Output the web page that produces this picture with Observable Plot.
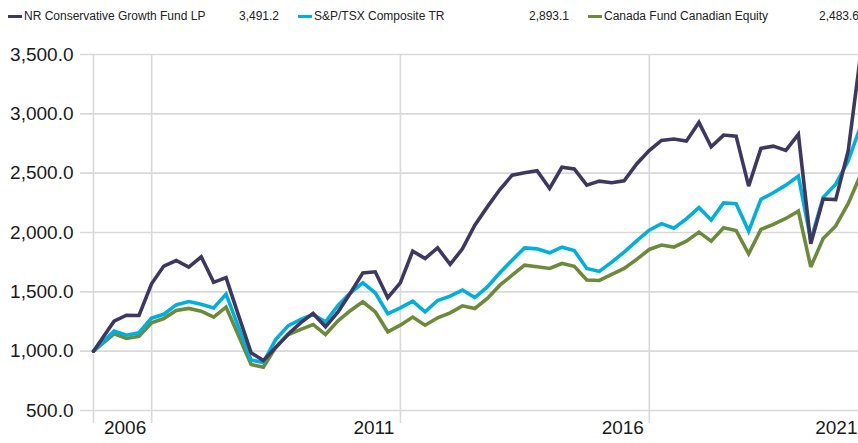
<!DOCTYPE html>
<html>
<head>
<meta charset="utf-8">
<script src="https://cdn.jsdelivr.net/npm/d3@7"></script>
<script src="https://cdn.jsdelivr.net/npm/@observablehq/plot@0.6"></script>
<style>
  html, body { margin: 0; padding: 0; background: #fff; overflow: hidden; }
  body { width: 858px; height: 443px; font-family: Arial, "Liberation Sans", sans-serif; }
  #legend { position: relative; height: 30px; width: 858px; overflow: hidden; }
  .item { position: absolute; top: 1px; height: 30px; width: 271px; display: flex; align-items: center; font-size: 12px; color: #222; white-space: nowrap; }
  .sw { width: 14px; height: 3px; margin-right: 2px; flex: none; }
  .val { margin-left: auto; }
  #chart svg { display: block; }
</style>
</head>
<body>
<div id="legend"></div>
<div id="chart"></div>
<script>
// ---- data ----
const seriesNames = ["NR Conservative Growth Fund LP", "S&P/TSX Composite TR", "Canada Fund Canadian Equity"];
const seriesColors = ["#3e3861", "#00afdb", "#6b8b3b"];
const lastValues = [3491.2, 2893.1, 2483.6];

const dates = [
  "2005-10-31",
  "2006-03-31","2006-06-30","2006-09-30","2006-12-31",
  "2007-03-31","2007-06-30","2007-09-30","2007-12-31",
  "2008-03-31","2008-06-30","2008-09-30","2008-12-31",
  "2009-03-31","2009-06-30","2009-09-30","2009-12-31",
  "2010-03-31","2010-06-30","2010-09-30","2010-12-31",
  "2011-03-31","2011-06-30","2011-09-30","2011-12-31",
  "2012-03-31","2012-06-30","2012-09-30","2012-12-31",
  "2013-03-31","2013-06-30","2013-09-30","2013-12-31",
  "2014-03-31","2014-06-30","2014-09-30","2014-12-31",
  "2015-03-31","2015-06-30","2015-09-30","2015-12-31",
  "2016-03-31","2016-06-30","2016-09-30","2016-12-31",
  "2017-03-31","2017-06-30","2017-09-30","2017-12-31",
  "2018-03-31","2018-06-30","2018-09-30","2018-12-31",
  "2019-03-31","2019-06-30","2019-09-30","2019-12-31",
  "2020-03-31","2020-06-30","2020-09-30","2020-12-31",
  "2021-03-31"
];

const nrFund = [
  1000, 1253, 1303, 1301, 1568, 1717, 1764, 1708, 1795, 1580,
  1620, 1300, 986, 921, 1030, 1145, 1240, 1318, 1205, 1330,
  1492, 1660, 1669, 1450, 1576, 1843, 1781, 1871, 1731, 1862,
  2062, 2216, 2362, 2483, 2503, 2520, 2371, 2550, 2535, 2399,
  2433, 2419, 2435, 2578, 2690, 2776, 2788, 2770, 2928, 2722,
  2821, 2812, 2391, 2709, 2728, 2692, 2827, 1905, 2282, 2277,
  2690, 3491.2
];

const tsxComposite = [
  1000, 1169, 1135, 1155, 1278, 1311, 1390, 1418, 1396, 1365,
  1480, 1200, 925, 905, 1099, 1215, 1268, 1309, 1247, 1385,
  1492, 1576, 1492, 1315, 1365, 1422, 1332, 1427, 1464, 1515,
  1452, 1542, 1660, 1767, 1870, 1862, 1829, 1876, 1848, 1697,
  1672, 1750, 1835, 1930, 2020, 2075, 2036, 2115, 2210, 2105,
  2250, 2242, 2012, 2279, 2335, 2399, 2475, 1935, 2295, 2407,
  2604, 2893.1
];

const canadaFund = [
  1000, 1146, 1107, 1126, 1239, 1275, 1343, 1360, 1337, 1287,
  1371, 1130, 888, 865, 1035, 1140, 1183, 1225, 1140, 1255,
  1343, 1416, 1332, 1163, 1219, 1287, 1219, 1281, 1323, 1382,
  1360, 1444, 1556, 1640, 1725, 1711, 1697, 1739, 1715, 1600,
  1596, 1647, 1697, 1773, 1857, 1894, 1877, 1927, 2003, 1927,
  2040, 2017, 1820, 2026, 2068, 2118, 2180, 1710, 1950, 2055,
  2245, 2483.6
];

const yTicks = [500, 1000, 1500, 2000, 2500, 3000, 3500];
const xGridDates = ["2005-10-31", "2007-01-01", "2012-01-01", "2017-01-01"];
const xTickYears = [2006, 2011, 2016, 2021];

// ---- legend ----
const fmt = d3.format(",.1f");
const legend = document.getElementById("legend");
seriesNames.forEach((name, i) => {
  const it = document.createElement("div");
  it.className = "item";
  it.style.left = (8 + i * 290) + "px";
  it.innerHTML = `<span class="sw" style="background:${seriesColors[i]}"></span><span>${name.replace(/&/g, "&amp;")}</span><span class="val">${fmt(lastValues[i])}</span>`;
  legend.appendChild(it);
});

// ---- table ----
const parse = d3.utcParse("%Y-%m-%d");
const allSeries = [nrFund, tsxComposite, canadaFund];
const rows = [];
// draw order: green, cyan, purple on top
[2, 1, 0].forEach(si => {
  dates.forEach((d, j) => rows.push({date: parse(d), value: allSeries[si][j], series: seriesNames[si]}));
});

const x0 = parse(dates[0]);
const x1 = parse(dates[dates.length - 1]);
const labelRows = xTickYears.map((y) => {
  const mid = new Date(Date.UTC(y, 5, 20));
  const last = mid > x1;
  return {date: last ? x1 : mid, text: String(y), anchor: last ? "end" : "middle"};
});

const chart = Plot.plot({
  width: 858,
  height: 413,
  marginLeft: 80,
  marginRight: 0,
  marginTop: 24,
  marginBottom: 33,
  style: {fontFamily: 'Arial, "Liberation Sans", sans-serif', overflow: "hidden", background: "#fff"},
  x: {type: "utc", domain: [x0, x1], range: [93, 860], axis: null},
  y: {domain: [500, 3500], axis: null},
  color: {domain: seriesNames, range: seriesColors},
  marks: [
    Plot.gridY(yTicks, {stroke: "#d9d9d9", strokeOpacity: 1, strokeWidth: 1.6}),
    Plot.ruleX(xGridDates.map(parse), {stroke: "#d9d9d9", strokeOpacity: 1, strokeWidth: 1.6, insetBottom: -13}),
    Plot.axisY(yTicks, {tickSize: 0, tickPadding: 7, tickFormat: fmt, fontSize: 19, fill: "#1a1a1a", label: null}),
    Plot.text(labelRows.filter(d => d.anchor === "middle"), {x: "date", text: "text", frameAnchor: "bottom", dy: 23, fontSize: 19, fill: "#1a1a1a", textAnchor: "middle"}),
    Plot.text(labelRows.filter(d => d.anchor === "end"), {x: "date", text: "text", frameAnchor: "bottom", dy: 23, dx: -3, fontSize: 19, fill: "#1a1a1a", textAnchor: "end"}),
    Plot.line(rows, {x: "date", y: "value", z: "series", stroke: "series", strokeWidth: 3.6, strokeLinejoin: "miter", strokeMiterlimit: 3, clip: true})
  ]
});
document.getElementById("chart").appendChild(chart);
</script>
</body>
</html>
